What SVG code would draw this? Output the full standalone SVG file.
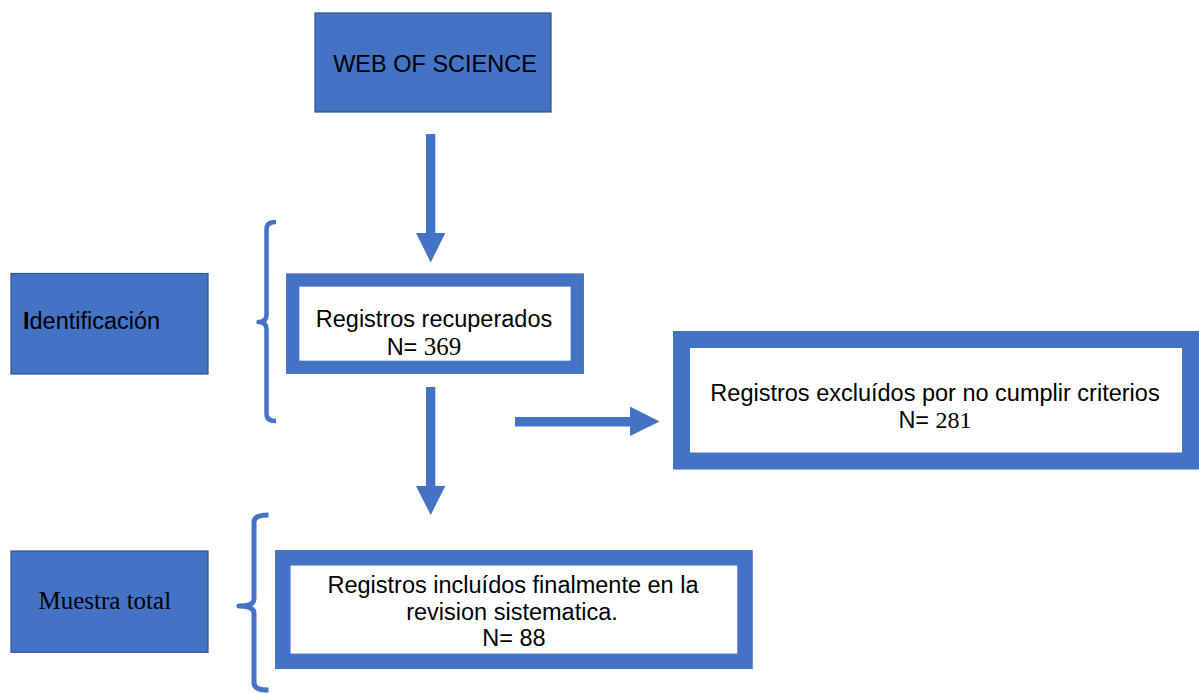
<svg xmlns="http://www.w3.org/2000/svg" width="1199" height="694" viewBox="0 0 1199 694">
<style>
.solid{fill:#4472C4;stroke:#2F528F;stroke-width:1.2}
.frame{fill:#FFFFFF;stroke:#4472C4}
.sans{font-family:"Liberation Sans",Arial,Helvetica,sans-serif;font-size:23.5px;fill:#000}
.serif{font-family:"Liberation Serif","Times New Roman",serif;fill:#000}
.arrow{fill:#4472C4;stroke:none}
.brace{fill:none;stroke:#4472C4;stroke-linejoin:round}
</style>
<rect width="1199" height="694" fill="#FFFFFF"/>
<g id="web-of-science">
<rect class="solid" x="315" y="13" width="236" height="99"/>
<text class="sans" x="435" y="72" text-anchor="middle">WEB OF SCIENCE</text>
</g>
<g id="identificacion">
<rect class="solid" x="11" y="273.5" width="197" height="100.5"/>
<text class="sans" x="23" y="329"><tspan font-weight="bold">I</tspan>dentificación</text>
</g>
<g id="registros-recuperados">
<rect class="frame" x="292.7" y="280" width="284.6" height="87.3" stroke-width="13.3"/>
<text class="sans" x="434" y="327" text-anchor="middle">Registros recuperados</text>
<text class="sans" x="424" y="355" text-anchor="middle">N= <tspan class="serif" font-size="25">369</tspan></text>
</g>
<g id="registros-excluidos">
<rect class="frame" x="681.5" y="339.5" width="509" height="121.5" stroke-width="17"/>
<text class="sans" x="935" y="401" text-anchor="middle">Registros excluídos por no cumplir criterios</text>
<text class="sans" x="935" y="427.5" text-anchor="middle">N= <tspan class="serif" font-size="24">281</tspan></text>
</g>
<g id="muestra-total">
<rect class="solid" x="11" y="551" width="197" height="101.3"/>
<text class="serif" x="38.5" y="609" font-size="25">Muestra total</text>
</g>
<g id="registros-incluidos">
<rect class="frame" x="282.8" y="557.8" width="462.2" height="103.5" stroke-width="15.5"/>
<text class="sans" x="513" y="593" text-anchor="middle">Registros incluídos finalmente en la</text>
<text class="sans" x="512" y="620" text-anchor="middle">revision sistematica.</text>
<text class="sans" x="514" y="646" text-anchor="middle">N= 88</text>
</g>
<g id="connectors">
<path class="arrow" d="M426,134 H435.3 V233 H445.3 L430.7,262.5 L416,233 H426 Z"/>
<path class="arrow" d="M426,387 H435.3 V486 H445.3 L430.7,515 L416,486 H426 Z"/>
<path class="arrow" d="M515,417 H630 V406.5 L659.5,421.5 L630,436 V426.5 H515 Z"/>
<path class="brace" stroke-width="4.5" d="M276,222 Q266.5,222 266.5,229 V315 Q266.5,322 258.5,322 Q266.5,322 266.5,329 V414 Q266.5,421 276,421"/>
<path class="brace" stroke-width="5" d="M268.5,515 Q254,515 254,522 V599 Q254,606 239,606 Q254,606 254,613 V683 Q254,690 268.5,690"/>
</g>
</svg>
